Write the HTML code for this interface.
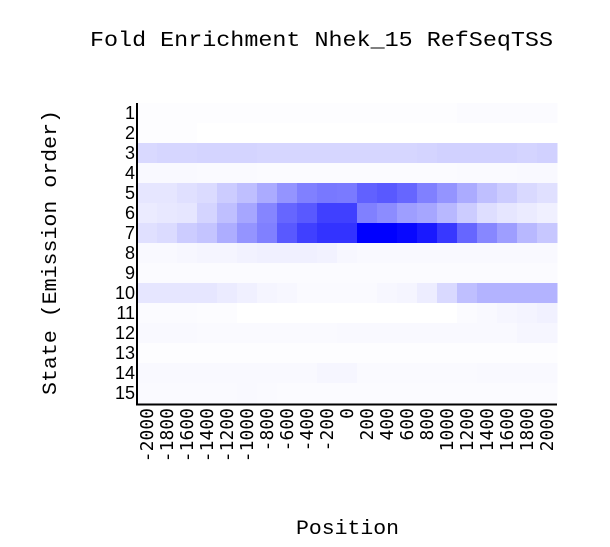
<!DOCTYPE html>
<html><head><meta charset="utf-8"><style>
html,body{margin:0;padding:0;background:#fff;}
svg{display:block;}
</style></head><body>
<svg id="chart" width="610" height="547" xmlns="http://www.w3.org/2000/svg">
<text x="90" y="46" font-family="Liberation Mono, monospace" font-size="21" textLength="463" lengthAdjust="spacingAndGlyphs">Fold Enrichment Nhek_15 RefSeqTSS</text>
<text transform="translate(56,395) rotate(-90)" font-family="Liberation Mono, monospace" font-size="20" textLength="285" lengthAdjust="spacingAndGlyphs">State (Emission order)</text>
<text x="296" y="534" font-family="Liberation Mono, monospace" font-size="20" textLength="103" lengthAdjust="spacingAndGlyphs">Position</text>
<g id="cells"></g>
<g id="ylabels"></g>
<g id="xlabels"></g>
<line x1="137" y1="103" x2="137" y2="405" stroke="#000" stroke-width="2"/>
<line x1="136" y1="404.5" x2="557" y2="404.5" stroke="#000" stroke-width="2"/>
</svg>
<script>
const positions = [-2000,-1800,-1600,-1400,-1200,-1000,-800,-600,-400,-200,0,200,400,600,800,1000,1200,1400,1600,1800,2000];
const states = ["1","2","3","4","5","6","7","8","9","10","11","12","13","14","15"];
const row1 = [0.008,0.008,0.008,0.008,0.008,0.008,0.008,0.008,0.008,0.008,0.008,0.008,0.008,0.008,0.008,0.008,0.015,0.015,0.015,0.015,0.015];
const row2 = [0.008,0.008,0.008,0,0,0,0,0,0,0,0,0,0,0,0,0,0,0,0,0,0];
const row3 = [0.15,0.16,0.16,0.17,0.17,0.17,0.16,0.16,0.16,0.16,0.16,0.16,0.16,0.16,0.17,0.18,0.18,0.18,0.18,0.17,0.18];
const row4 = [0.025,0.025,0.025,0.02,0.02,0.02,0.015,0.015,0.015,0.015,0.015,0.015,0.015,0.015,0.015,0.015,0.02,0.02,0.02,0.025,0.025];
const row5 = [0.1,0.1,0.12,0.14,0.2,0.25,0.33,0.42,0.5,0.53,0.52,0.62,0.65,0.6,0.5,0.42,0.33,0.25,0.2,0.15,0.12];
const row6 = [0.08,0.09,0.1,0.17,0.25,0.35,0.48,0.6,0.65,0.75,0.75,0.5,0.45,0.38,0.35,0.28,0.2,0.13,0.1,0.08,0.06];
const row7 = [0.12,0.14,0.2,0.23,0.32,0.42,0.5,0.65,0.75,0.8,0.8,1,1,0.97,0.9,0.78,0.6,0.47,0.38,0.28,0.22];
const row8 = [0.025,0.025,0.03,0.04,0.04,0.05,0.06,0.06,0.06,0.05,0.03,0.025,0.025,0.025,0.025,0.025,0.025,0.025,0.025,0.025,0.025];
const row9 = [0.015,0.015,0.015,0.015,0.015,0.015,0.015,0.015,0.015,0.015,0.015,0.015,0.015,0.015,0.015,0.015,0.015,0.015,0.015,0.015,0.015];
const row10 = [0.1,0.1,0.1,0.1,0.08,0.06,0.04,0.03,0.02,0.02,0.02,0.02,0.03,0.04,0.07,0.15,0.25,0.3,0.3,0.3,0.3];
const row11 = [0.015,0.015,0.015,0.01,0.01,0,0,0,0,0,0,0,0,0,0,0,0.015,0.025,0.035,0.045,0.055];
const row12 = [0.025,0.025,0.025,0.02,0.02,0.02,0.02,0.02,0.02,0.02,0.025,0.025,0.025,0.025,0.025,0.025,0.025,0.025,0.025,0.035,0.035];
const row13 = [0.008,0.008,0.008,0.008,0.008,0.008,0.008,0.008,0.008,0.008,0.008,0.008,0.008,0.008,0.008,0.008,0.008,0.008,0.008,0.008,0.008];
const row14 = [0.025,0.025,0.025,0.025,0.025,0.025,0.025,0.025,0.025,0.035,0.035,0.02,0.02,0.02,0.02,0.02,0.02,0.025,0.025,0.025,0.025];
const row15 = [0.02,0.02,0.02,0.02,0.02,0.025,0.02,0.015,0.015,0.015,0.015,0.015,0.015,0.015,0.015,0.015,0.015,0.015,0.015,0.015,0.015];
const values = [row1,row2,row3,row4,row5,row6,row7,row8,row9,row10,row11,row12,row13,row14,row15];

const NS = "http://www.w3.org/2000/svg";
const X0 = 137, CW = 20, Y0 = 103, RH = 20;
function xPos(i){ return X0 + i*CW; }
function yPos(j){ return Y0 + j*RH; }
function color(v){ const c = Math.round(255*(1-Math.max(0,Math.min(1,v)))); return `rgb(${c},${c},255)`; }

const cells = document.getElementById('cells');
values.forEach((row, j) => {
  row.forEach((v, i) => {
    const r = document.createElementNS(NS,'rect');
    r.setAttribute('x', xPos(i)); r.setAttribute('y', yPos(j));
    r.setAttribute('width', CW+0.5); r.setAttribute('height', RH+0.5);
    r.setAttribute('fill', color(v));
    
    
    cells.appendChild(r);
  });
});
const yl = document.getElementById('ylabels');
states.forEach((s, j) => {
  const t = document.createElementNS(NS,'text');
  t.setAttribute('x', 135); t.setAttribute('y', yPos(j)+RH/2+6);
  t.setAttribute('text-anchor','end');
  t.setAttribute('font-family','Liberation Sans, sans-serif');
  t.setAttribute('font-size','18');
  t.textContent = s;
  
  
  yl.appendChild(t);
});
const xl = document.getElementById('xlabels');
positions.forEach((p, i) => {
  const t = document.createElementNS(NS,'text');
  const cx = xPos(i)+CW/2+6;
  t.setAttribute('transform', `translate(${cx},408) rotate(-90)`);
  t.setAttribute('text-anchor','end');
  t.setAttribute('font-family','DejaVu Sans Mono, monospace');
  t.setAttribute('font-size','18');
  t.textContent = String(p);
  
  
  xl.appendChild(t);
});
</script>
</body></html>
